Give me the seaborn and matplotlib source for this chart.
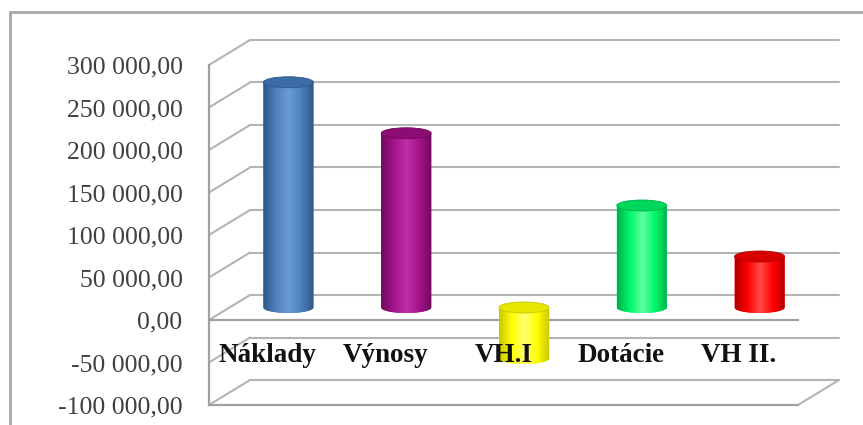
import numpy as np
import pandas as pd
import matplotlib
matplotlib.use("Agg")
import matplotlib.pyplot as plt
import seaborn as sns
from matplotlib.transforms import ScaledTranslation
from matplotlib.patches import Ellipse, PathPatch
from matplotlib.path import Path
from matplotlib.colors import LinearSegmentedColormap
from matplotlib.lines import Line2D

# ---------------- data ----------------
categories = ["Náklady", "Výnosy", "VH.I", "Dotácie", "VH II."]
values = [265000, 205000, -60000, 120000, 60000]
bar_colors = ["#4F81BD", "#A5138A", "#FFFF00", "#00F86A", "#FF0000"]
edge_colors = ["#2E5688", "#6E0A5C", "#C8C800", "#00B04A", "#B00000"]
light_colors = ["#6A9CDA", "#C030A5", "#FFFF70", "#60FF9F", "#FF4A4A"]
cap_colors = ["#3C6CA8", "#8C0C74", "#E6E600", "#00D85C", "#D80000"]
ytick_values = [-100000, -50000, 0, 50000, 100000, 150000, 200000, 250000, 300000]
ytick_labels = ["-100 000,00", "-50 000,00", "0,00", "50 000,00", "100 000,00",
                "150 000,00", "200 000,00", "250 000,00", "300 000,00"]

sns.set_theme(style="white")
plt.rcParams['font.family'] = ['Liberation Serif', 'DejaVu Serif']

W, H = 863, 425
fig = plt.figure(figsize=(W / 100, H / 100), dpi=100)
fig.patch.set_facecolor("white")
ax = fig.add_axes([209 / W, 20 / H, 589 / W, 340 / H])
ax.patch.set_alpha(0)

df = pd.DataFrame({"cat": categories, "val": values})
sns.barplot(data=df, x="cat", y="val", hue="cat", palette=bar_colors,
            order=categories, hue_order=categories, width=0.425,
            saturation=1, legend=False, ax=ax, zorder=3)

ax.set_xlim(-0.5, len(categories) - 0.5)
ax.set_ylim(ytick_values[0], ytick_values[-1])
ax.set_xlabel("")
ax.set_ylabel("")
ax.grid(False)

grid_col = "#B4B4B4"
axis_col = "#A0A0A0"

# spines
for s in ["top", "right"]:
    ax.spines[s].set_visible(False)
ax.spines["left"].set_color(axis_col)
ax.spines["left"].set_linewidth(1.6)
ax.spines["bottom"].set_position(("data", 0))
ax.spines["bottom"].set_color(axis_col)
ax.spines["bottom"].set_linewidth(1.6)

ax.set_yticks(ytick_values)
ax.set_yticklabels(ytick_labels)
ax.tick_params(axis="y", direction="out", length=5, width=1.4, color=axis_col,
               labelsize=18.5, labelcolor="#404040", pad=14)
ax.set_xticks([i + 0.5 for i in range(len(categories))])
ax.set_xticklabels([])
ax.tick_params(axis="x", direction="out", length=4, width=1.2, color=axis_col)

# 3D offsets
back_off = ax.transData + ScaledTranslation(0.41, 0.25, fig.dpi_scale_trans)
mid_off = ax.transData + ScaledTranslation(0.205, 0.125, fig.dpi_scale_trans)
xl = ax.get_xlim()

# back wall gridlines + diagonals from front axis
for v in ytick_values:
    ax.plot(xl, [v, v], color=grid_col, lw=1.5, transform=back_off,
            clip_on=False, zorder=0.5)
    p = ax.transData.transform((xl[0], v))
    ax.add_line(Line2D([p[0], p[0] + 41], [p[1], p[1] + 25], color=grid_col,
                       lw=1.5, transform=None, clip_on=False, zorder=0.5))

# floor at the bottom
ymin = ytick_values[0]
ax.plot(xl, [ymin, ymin], color=axis_col, lw=1.6, clip_on=False, zorder=2)
p = ax.transData.transform((xl[1], ymin))
ax.add_line(Line2D([p[0], p[0] + 41], [p[1], p[1] + 25], color=grid_col,
                   lw=1.5, transform=None, clip_on=False, zorder=0.5))

# cylinders
px_per_data = ax.bbox.height / (ytick_values[-1] - ytick_values[0])
eh = 11 / px_per_data
bars = list(ax.patches)[:len(values)]
for i, bar in enumerate(bars):
    x0 = bar.get_x()
    w = bar.get_width()
    y0 = bar.get_y()
    y1 = y0 + bar.get_height()
    bot, top = min(y0, y1), max(y0, y1)
    cx = x0 + w / 2
    bar.set_visible(False)
    th = np.linspace(np.pi, 2 * np.pi, 60)
    verts = [(x0, top)] + [(cx + w / 2 * np.cos(t), bot + eh / 2 * np.sin(t)) for t in th] \
        + [(x0 + w, top), (x0, top)]
    codes = [Path.MOVETO] + [Path.LINETO] * (len(verts) - 2) + [Path.CLOSEPOLY]
    body = PathPatch(Path(verts, codes), facecolor=bar_colors[i], edgecolor="none",
                     transform=mid_off, zorder=3, clip_on=False)
    ax.add_patch(body)
    cmap = LinearSegmentedColormap.from_list(
        "c%d" % i, [edge_colors[i], bar_colors[i], light_colors[i], bar_colors[i], edge_colors[i]])
    grad = np.linspace(0, 1, 200)[None, :]
    im = ax.imshow(grad, extent=(x0, x0 + w, bot - eh / 2, top), aspect="auto",
                   cmap=cmap, transform=mid_off, zorder=3.1, interpolation="bilinear")
    im.set_clip_path(body)
    cap = Ellipse((cx, top), w, eh, facecolor=cap_colors[i], edgecolor=edge_colors[i],
                  lw=0.6, transform=mid_off, zorder=3.2, clip_on=False)
    ax.add_patch(cap)

ax.set_xlim(xl)
ax.set_ylim(ytick_values[0], ytick_values[-1])
ax.set_aspect("auto")

# category labels
for i, c in enumerate(categories):
    ax.text(i, -42000, c, ha="center", va="center", fontsize=19.5,
            fontweight="bold", color="#111111", zorder=6)

# outer frame
fig.add_artist(Line2D([10 / W, 10 / W], [0, 1 - 12 / H], color="#A8A8A8", lw=2,
                      transform=fig.transFigure))
fig.add_artist(Line2D([10 / W, 1], [1 - 12 / H, 1 - 12 / H], color="#A8A8A8", lw=2,
                      transform=fig.transFigure))

fig.savefig("out.png", dpi=100)
